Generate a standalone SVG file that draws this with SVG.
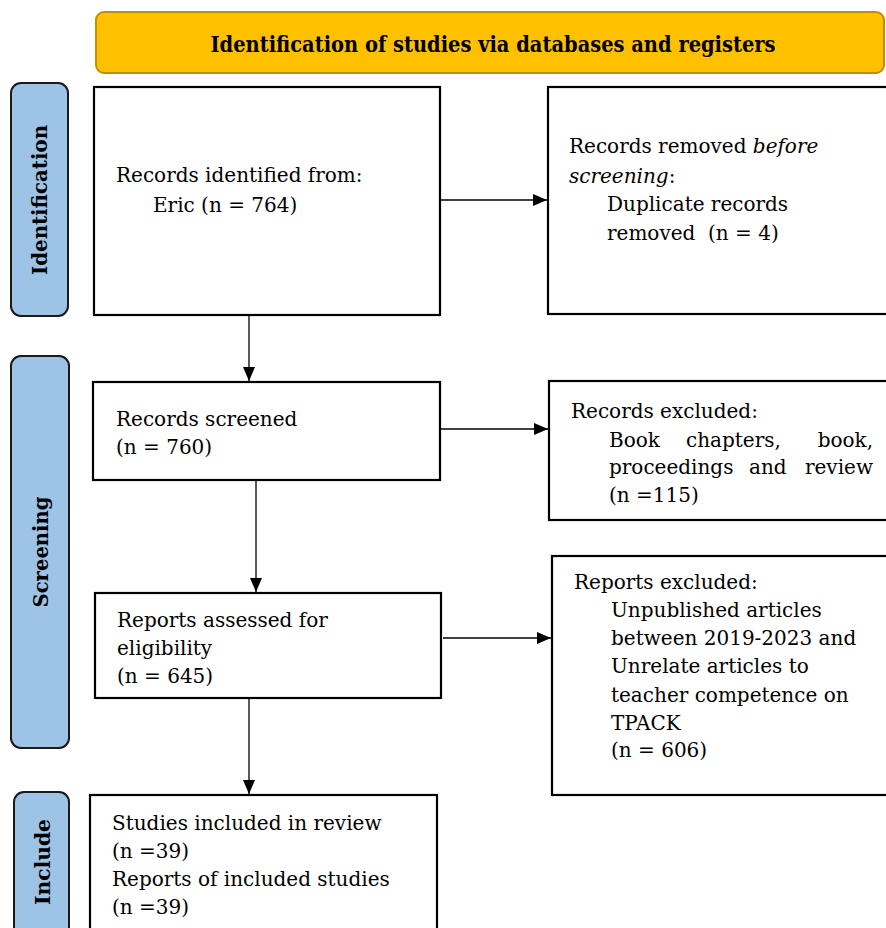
<svg xmlns="http://www.w3.org/2000/svg" width="886" height="928" viewBox="0 0 886 928">
<style>
.box{fill:#fff;stroke:#000;stroke-width:2.2}
.side{fill:#9DC3E6;stroke:#1a1a1a;stroke-width:2}
.t{font-family:"DejaVu Serif","Liberation Serif",serif;font-size:20px;fill:#000}
.sl{font-family:"DejaVu Serif","Liberation Serif",serif;font-size:21px;font-weight:bold;fill:#000}
.ttl{font-family:"DejaVu Serif","Liberation Serif",serif;font-size:22px;font-weight:bold;fill:#000}
.con{stroke:#000;stroke-width:1.3;fill:none;marker-end:url(#ah)}
</style>
<defs>
<marker id="ah" viewBox="0 0 14 12" refX="14" refY="6" markerWidth="14" markerHeight="12" markerUnits="userSpaceOnUse" orient="auto">
<path d="M0,0 L14,6 L0,12 Z" fill="#000"/>
</marker>
</defs>
<rect width="886" height="928" fill="#fff"/>

<g id="title">
<rect x="96" y="12" width="788" height="61" rx="8" fill="#FFC000" stroke="#BF9000" stroke-width="2"/>
<text class="ttl" x="493" y="52" text-anchor="middle" textLength="565" lengthAdjust="spacingAndGlyphs">Identification of studies via databases and registers</text>
</g>

<g id="label-identification">
<rect class="side" x="11" y="83" width="57" height="233" rx="10"/>
<text class="sl" transform="translate(47,200) rotate(-90)" text-anchor="middle" textLength="150" lengthAdjust="spacingAndGlyphs">Identification</text>
</g>
<g id="label-screening">
<rect class="side" x="11" y="356" width="58" height="392" rx="10"/>
<text class="sl" transform="translate(48,552) rotate(-90)" text-anchor="middle" textLength="111" lengthAdjust="spacingAndGlyphs">Screening</text>
</g>
<g id="label-include">
<rect class="side" x="14" y="792" width="55" height="150" rx="10"/>
<text class="sl" transform="translate(50,862) rotate(-90)" text-anchor="middle" textLength="86" lengthAdjust="spacingAndGlyphs">Include</text>
</g>

<g id="records-identified">
<rect class="box" x="94" y="87" width="346" height="228"/>
<text class="t" x="116" y="182">Records identified from:</text>
<text class="t" x="153" y="212">Eric (n = 764)</text>
</g>

<g id="records-removed">
<rect class="box" x="548" y="87" width="345" height="227"/>
<text class="t" x="569" y="153">Records removed <tspan font-style="italic">before</tspan></text>
<text class="t" x="569" y="183"><tspan font-style="italic">screening</tspan>:</text>
<text class="t" x="607" y="211">Duplicate records</text>
<text class="t" x="607" y="240" xml:space="preserve">removed  (n = 4)</text>
</g>

<g id="records-screened">
<rect class="box" x="93" y="382" width="347" height="98"/>
<text class="t" x="116" y="426">Records screened</text>
<text class="t" x="116" y="454">(n = 760)</text>
</g>

<g id="records-excluded">
<rect class="box" x="549" y="381" width="344" height="139"/>
<text class="t" x="571" y="418">Records excluded:</text>
<text class="t" x="609" y="447">Book</text>
<text class="t" x="686" y="447">chapters,</text>
<text class="t" x="873" y="447" text-anchor="end">book,</text>
<text class="t" x="609" y="474">proceedings</text>
<text class="t" x="749" y="474">and</text>
<text class="t" x="873" y="474" text-anchor="end">review</text>
<text class="t" x="609" y="502">(n =115)</text>
</g>

<g id="reports-assessed">
<rect class="box" x="95" y="593" width="346" height="105"/>
<text class="t" x="117" y="627">Reports assessed for</text>
<text class="t" x="117" y="655">eligibility</text>
<text class="t" x="117" y="683">(n = 645)</text>
</g>

<g id="reports-excluded">
<rect class="box" x="552" y="556" width="341" height="239"/>
<text class="t" x="574" y="589">Reports excluded:</text>
<text class="t" x="611" y="617">Unpublished articles</text>
<text class="t" x="611" y="645">between 2019-2023 and</text>
<text class="t" x="611" y="673">Unrelate articles to</text>
<text class="t" x="611" y="702">teacher competence on</text>
<text class="t" x="611" y="730">TPACK</text>
<text class="t" x="611" y="757">(n = 606)</text>
</g>

<g id="studies-included">
<rect class="box" x="90" y="795" width="347" height="150"/>
<text class="t" x="112" y="830">Studies included in review</text>
<text class="t" x="112" y="858">(n =39)</text>
<text class="t" x="112" y="886">Reports of included studies</text>
<text class="t" x="112" y="914">(n =39)</text>
</g>

<g id="connectors">
<line class="con" x1="441" y1="200" x2="547" y2="200"/>
<line class="con" x1="249" y1="316" x2="249" y2="381"/>
<line class="con" x1="441" y1="429" x2="548" y2="429"/>
<line class="con" x1="256" y1="481" x2="256" y2="592"/>
<line class="con" x1="443" y1="638" x2="551" y2="638"/>
<line class="con" x1="249" y1="699" x2="249" y2="794"/>
</g>
</svg>
